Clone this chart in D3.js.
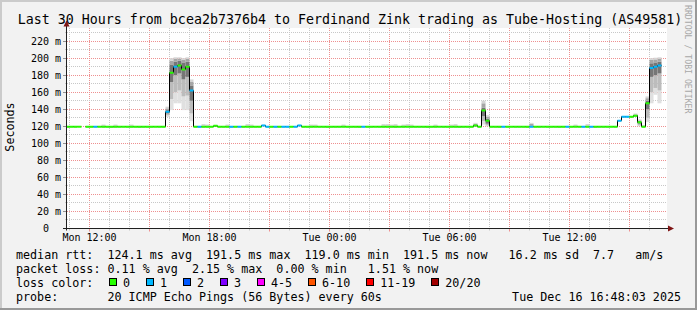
<!DOCTYPE html>
<html><head><meta charset="utf-8">
<script src="https://cdn.jsdelivr.net/npm/d3@7"></script>
<style>
html,body{margin:0;padding:0;background:#f2f2f2;}
svg{display:block;}
text{font-family:"DejaVu Sans Mono",monospace;white-space:pre;}
</style></head><body>
<svg id="c" width="697" height="310"></svg>
<script>
// ---------- data ----------
const title = "Last 30 Hours from bcea2b7376b4 to Ferdinand Zink trading as Tube-Hosting (AS49581)";
const yAxisLabel = "Seconds";
const watermark = "RRDTOOL / TOBI OETIKER";
const viewStartUTC = Date.UTC(2025, 11, 15, 10, 52, 30);
const viewEndUTC   = Date.UTC(2025, 11, 16, 16, 52, 30);
const firstStepUTC = Date.UTC(2025, 11, 15, 10, 48, 0);
const stepMinutes = 12;
const yMax = 235.4;
const yMajorTicks = [0, 20, 40, 60, 80, 100, 120, 140, 160, 180, 200, 220];
const yMinorTicks = [10, 30, 50, 70, 90, 110, 130, 150, 170, 190, 210, 230];

// median rtt (ms) per 12-minute step
const median = [
  119.5,119.6,119.5,119.4,null,119.5,119.5,119.5,119.6,119.5,
  119.5,119.4,119.5,119.5,119.6,119.5,119.5,119.5,119.4,119.5,
  119.5,119.5,119.6,119.5,119.5,137.0,183.0,190.0,191.5,186.7,
  190.0,162.0,119.5,119.4,119.5,119.5,119.6,120.5,119.5,119.5,
  119.5,119.4,119.5,119.5,119.5,119.6,119.5,119.5,119.5,121.0,
  119.5,119.5,119.4,119.5,119.5,119.5,119.6,119.5,121.0,119.5,
  119.5,119.5,119.6,119.5,119.5,119.4,119.5,119.5,119.5,119.6,
  119.5,119.5,119.5,119.4,119.5,119.5,119.5,119.6,119.5,119.5,
  119.5,119.5,119.4,119.5,119.5,119.6,119.5,119.5,119.5,119.5,
  119.4,119.5,119.5,119.6,119.5,119.5,119.5,119.5,119.4,119.5,
  119.5,119.5,121.0,119.5,138.5,126.6,119.5,119.5,119.4,119.5,
  119.5,119.6,119.5,119.5,119.5,119.4,119.5,119.5,119.5,119.6,
  119.5,119.5,119.5,119.4,119.5,119.5,119.5,119.6,119.5,119.5,
  119.5,119.5,119.4,119.5,119.5,119.5,119.6,119.5,126.6,131.3,
  131.3,131.3,132.5,124.6,119.5,147.0,188.5,190.0,191.5
];
// lost pings per step
const loss = [
  0,0,0,0,0,0,0,1,0,0,
  0,0,0,0,0,0,0,0,0,0,
  0,0,0,0,0,1,0,1,0,0,
  0,1,0,1,0,0,0,0,0,0,
  0,1,0,1,0,0,0,0,0,1,
  1,0,1,0,1,1,0,1,1,0,
  0,0,0,0,0,0,0,0,0,0,
  0,0,0,0,1,0,0,0,0,0,
  0,0,0,0,0,0,0,0,0,0,
  0,0,0,0,0,0,0,0,0,0,
  0,0,0,0,0,0,0,0,0,1,
  0,0,0,0,0,0,1,0,0,0,
  0,0,0,0,0,1,0,0,0,1,
  0,1,0,0,0,0,0,0,1,1,
  1,0,0,0,0,0,1,1,1
];
// smoke (ping spread) for steps where it is visible
const smokeStep = [9,12,16,25,26,27,28,29,30,31,34,35,40,45,46,61,62,69,79,80,81,82,84,85,86,92,96,97,102,104,105,116,127,130,142,143,144,145,146,147,148];
const smokeMin = [119.5,119.5,119.5,131,139,147,147,139,139,126,119.5,119.5,119.5,119.5,119.5,119.5,119.5,119.5,119.5,119.5,119.5,119.5,119.5,119.5,119.5,119.5,119.5,119.5,119.5,122,120,119.5,119.5,119.5,131,120,119.5,125,147,157,147];
const smokeP10 = [119.5,119.5,119.5,133,152,160,162,155,156,135,119.5,119.5,119.5,119.5,119.5,119.5,119.5,119.5,119.5,119.5,119.5,119.5,119.5,119.5,119.5,119.5,119.5,119.5,119.5,126,121,119.5,119.5,119.5,131.5,121,119.5,130,160,165,162];
const smokeP30 = [119.5,119.5,119.5,135,172,180,182,175,178,150,119.5,119.5,119.5,119.5,119.5,119.5,119.5,119.5,119.5,119.5,119.5,119.5,119.5,119.5,119.5,119.5,119.5,119.5,120,132,123,119.5,119.5,119.5,132,123,119.5,140,178,180,182];
const smokeP70 = [119.5,119.5,119.5,139,192,196,197,195,196,168,119.5,119.5,119.5,119.5,119.5,119.5,119.5,119.5,119.5,119.5,119.5,119.5,119.5,119.5,119.5,119.5,119.5,119.5,122,142,129,121,119.5,119.5,133,126,119.5,150,194,195,196];
const smokeP90 = [120.5,120.5,120.5,141,197,199,199.5,198,199,172,120.5,120.5,120.5,120.5,120.5,120.5,120.5,120.5,120.5,120.5,120.5,120.5,120.5,120.5,120.5,120.5,120.5,120.5,123,147,131,123,120.5,120.5,134,127,120.5,153,198,198.5,199];
const smokeMax = [122,122,122,143,200,201,201,200,201,175,122.5,122,122,122.5,122,122,122,122,122.5,122.5,122,122.5,122,122.5,122,122,122,122.5,124,150,133,124,122,122.5,135,128,121.5,155,200,200.5,201];

const lossLabels = ["0","1","2","3","4-5","6-10","11-19","20/20"];
const lossUpper  = [0, 1, 2, 3, 5, 10, 19, 20];
const lossColors = ["#26ff00","#00b8ff","#0059ff","#7e00ff","#ff00ff","#ff5500","#ff0000","#a10000"];

const legendRtt  = "median rtt:  124.1 ms avg  191.5 ms max  119.0 ms min  191.5 ms now   16.2 ms sd  7.7   am/s";
const legendLoss = "packet loss: 0.11 % avg  2.15 % max  0.00 % min   1.51 % now";
const legendColorTitle = "loss color:";
const legendProbe = "probe:       20 ICMP Echo Pings (56 Bytes) every 60s";
const timestamp = "Tue Dec 16 16:48:03 2025";

// ---------- layout ----------
const W = 697, H = 310;
const X0 = 67, X1 = 667, Y0 = 228.5, Y1 = 28;
const svg = d3.select("#c");
const x = d3.scaleUtc().domain([viewStartUTC, viewEndUTC]).range([X0, X1]);
const y = d3.scaleLinear().domain([0, yMax]).range([Y0, Y1]);
const stepMs = stepMinutes * 60000;
const stepT = k => firstStepUTC + k * stepMs;
const lossIndex = n => lossUpper.findIndex(u => n <= u);

// background + frame
svg.append("rect").attr("width", W).attr("height", H).attr("fill", "#f2f2f2");
svg.append("rect").attr("x", 0).attr("y", 0).attr("width", W).attr("height", 2).attr("fill", "#cbcbcb");
svg.append("rect").attr("x", 0).attr("y", 0).attr("width", 2).attr("height", H).attr("fill", "#cbcbcb");
svg.append("rect").attr("x", 0).attr("y", H - 2).attr("width", W).attr("height", 2).attr("fill", "#999999");
svg.append("rect").attr("x", W - 2).attr("y", 0).attr("width", 2).attr("height", H).attr("fill", "#999999");

// plot canvas
svg.append("rect").attr("x", X0).attr("y", Y1).attr("width", X1 - X0).attr("height", Y0 - Y1).attr("fill", "#ffffff");

// grid
const grid = svg.append("g");
const minorX = x.ticks(d3.utcHour.every(1));
const majorX = x.ticks(d3.utcHour.every(3));
const majorXSet = new Set(majorX.map(d => +d));
const px = v => Math.floor(v) + 0.5;
minorX.filter(d => !majorXSet.has(+d)).forEach(d => {
  const xx = px(x(d));
  grid.append("line").attr("x1", xx).attr("x2", xx).attr("y1", Y1).attr("y2", Y0)
    .attr("stroke", "#c8c8c8").attr("stroke-dasharray", "1,1");
  grid.append("line").attr("x1", xx).attr("x2", xx).attr("y1", Y0).attr("y2", Y0 + 2).attr("stroke", "#c8c8c8");
});
majorX.forEach(d => {
  const xx = px(x(d));
  grid.append("line").attr("x1", xx).attr("x2", xx).attr("y1", Y1).attr("y2", Y0)
    .attr("stroke", "#ee9090").attr("stroke-dasharray", "1,1");
  grid.append("line").attr("x1", xx).attr("x2", xx).attr("y1", Y0).attr("y2", Y0 + 3).attr("stroke", "#ee9090");
});
yMinorTicks.forEach(v => {
  const yy = px(y(v));
  grid.append("line").attr("x1", X0).attr("x2", X1).attr("y1", yy).attr("y2", yy)
    .attr("stroke", "#c8c8c8").attr("stroke-dasharray", "1,1");
  grid.append("line").attr("x1", X0 - 2).attr("x2", X0).attr("y1", yy).attr("y2", yy).attr("stroke", "#c8c8c8");
});
yMajorTicks.filter(v => v > 0).forEach(v => {
  const yy = px(y(v));
  grid.append("line").attr("x1", X0).attr("x2", X1).attr("y1", yy).attr("y2", yy)
    .attr("stroke", "#ee9090").attr("stroke-dasharray", "1,1");
  grid.append("line").attr("x1", X0 - 4).attr("x2", X0).attr("y1", yy).attr("y2", yy).attr("stroke", "#909090");
});

// data
svg.append("clipPath").attr("id", "plotclip").append("rect")
  .attr("x", X0).attr("y", Y1).attr("width", X1 - X0).attr("height", Y0 - Y1);
const data = svg.append("g").attr("clip-path", "url(#plotclip)");

const bandShades = ["#e0e0e0", "#bcbcbc", "#767676", "#a6a6a6", "#d4d4d4"];
const bandArrays = [smokeMin, smokeP10, smokeP30, smokeP70, smokeP90, smokeMax];
smokeStep.forEach((k, i) => {
  const xa = x(stepT(k)), xb = x(stepT(k + 1));
  for (let b = 0; b < 5; b++) {
    const lo = bandArrays[b][i], hi = bandArrays[b + 1][i];
    if (hi <= lo) continue;
    data.append("rect").attr("x", xa).attr("width", xb - xa)
      .attr("y", y(hi)).attr("height", y(lo) - y(hi)).attr("fill", bandShades[b]);
  }
});

// black median step line
const pts = median.map((m, k) => ({t: stepT(k), m}));
pts.push({t: stepT(median.length), m: median[median.length - 1]});
data.append("path").datum(pts)
  .attr("d", d3.line().defined(d => d.m != null).x(d => x(d.t)).y(d => y(d.m)).curve(d3.curveStepAfter))
  .attr("fill", "none").attr("stroke", "#000").attr("stroke-width", 1);

// loss-colored median segments
median.forEach((m, k) => {
  if (m == null) return;
  data.append("line").attr("x1", x(stepT(k))).attr("x2", x(stepT(k + 1)))
    .attr("y1", y(m)).attr("y2", y(m))
    .attr("stroke", lossColors[lossIndex(loss[k])]).attr("stroke-width", 2);
});

// axes
const axisCol = "#202020", arrowCol = "#7f1515";
svg.append("line").attr("x1", 63).attr("x2", 669).attr("y1", Y0).attr("y2", Y0).attr("stroke", axisCol);
svg.append("line").attr("x1", X0 - 0.5).attr("x2", X0 - 0.5).attr("y1", Y0 + 2).attr("y2", 25).attr("stroke", axisCol);
svg.append("path").attr("d", `M${X0 - 0.5},20.5 L${X0 - 3.5},26.5 L${X0 + 2.5},26.5 Z`).attr("fill", arrowCol);
svg.append("path").attr("d", `M674,${Y0} L668,${Y0 - 3} L668,${Y0 + 3} Z`).attr("fill", arrowCol);

// y tick labels
const fmtY = v => v === 0 ? "0" : v + " m";
yMajorTicks.forEach(v => {
  svg.append("text").attr("x", v === 0 ? 49 : 61).attr("y", y(v) + 3.5)
    .attr("text-anchor", "end").attr("font-size", "10px").attr("fill", "#000").text(fmtY(v));
});
// x tick labels
const fmtX = d3.utcFormat("%a %H:%M");
x.ticks(d3.utcHour.every(6)).forEach(d => {
  svg.append("text").attr("x", px(x(d))).attr("y", 240.5).attr("text-anchor", "middle")
    .attr("font-size", "10px").attr("fill", "#000").text(fmtX(d));
});

// title
svg.append("text").attr("x", 350).attr("y", 24).attr("text-anchor", "middle")
  .attr("font-size", "13.3px").attr("fill", "#000").text(title);
// y axis label
svg.append("text").attr("transform", "translate(14,127) rotate(-90)").attr("text-anchor", "middle")
  .attr("font-size", "11.7px").attr("fill", "#000").text(yAxisLabel);
// watermark
svg.append("text").attr("transform", "translate(685,5) rotate(90)")
  .attr("font-size", "8.2px").attr("fill", "#a8a8a8").text(watermark);

// legend
const lg = svg.append("g").attr("font-size", "11.7px").attr("fill", "#000");
const lt = (s, xx, yy, anchor) => lg.append("text").attr("x", xx).attr("y", yy)
  .attr("xml:space", "preserve").attr("text-anchor", anchor || "start").text(s);
lt(legendRtt, 16, 258.5);
lt(legendLoss, 16, 272.5);
lt(legendColorTitle, 16, 286.5);
lt(legendProbe, 16, 300.5);
lt(timestamp, 681, 300.5, "end");
let bx = 108.5;
lossLabels.forEach((lab, i) => {
  lg.append("rect").attr("x", Math.round(bx) + 0.5).attr("y", 278.5).attr("width", 7).attr("height", 7)
    .attr("fill", lossColors[i]).attr("stroke", "#000");
  lt(lab, bx + 14.5, 286.5);
  bx += 37 + (lab.length - 1) * 7.03;
});
</script>
</body></html>
